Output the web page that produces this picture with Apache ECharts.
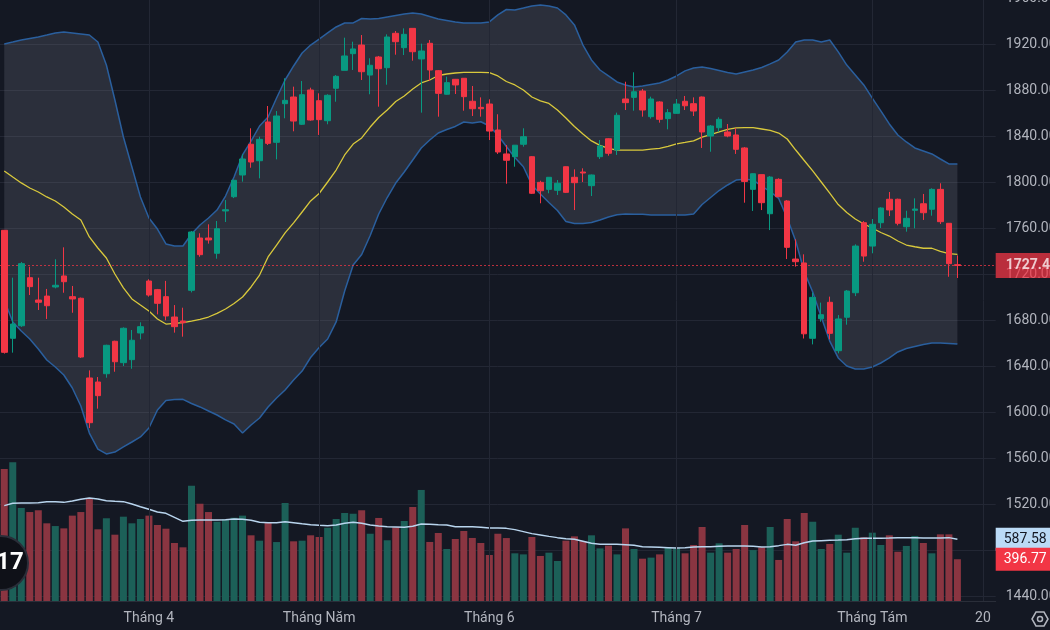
<!DOCTYPE html>
<html><head><meta charset="utf-8">
<script src="https://cdn.jsdelivr.net/npm/echarts@6/dist/echarts.min.js"></script>
<style>html,body{margin:0;padding:0;background:#141823;overflow:hidden}#c{width:1050px;height:630px}</style>
</head><body><div id="c"></div>
<script>
const opens = [1758.0,1664.1,1675.0,1716.8,1697.4,1700.8,1708.7,1718.3,1700.3,1698.9,1629.6,1626.1,1633.3,1661.5,1642.9,1645.5,1668.7,1713.9,1706.4,1700.3,1682.6,1679.1,1705.8,1751.3,1751.3,1738.0,1774.8,1787.2,1806.1,1832.8,1818.5,1852.2,1834.5,1868.1,1873.9,1850.2,1880.0,1870.7,1853.3,1881.5,1897.1,1911.6,1919.1,1893.0,1908.7,1899.4,1929.3,1916.8,1933.6,1907.0,1920.6,1896.8,1876.3,1889.3,1890.2,1870.2,1864.9,1867.8,1845.2,1824.4,1822.0,1832.8,1822.0,1799.7,1793.6,1792.8,1813.3,1804.1,1808.7,1796.8,1822.0,1837.6,1827.8,1872.2,1873.6,1879.1,1856.8,1869.6,1855.1,1859.7,1870.2,1868.1,1873.9,1840.0,1847.2,1843.5,1840.9,1829.6,1793.6,1806.4,1772.4,1802.3,1783.5,1733.0,1729.6,1664.1,1681.1,1695.4,1653.3,1682.4,1703.7,1764.6,1744.3,1764.6,1785.0,1785.0,1761.1,1775.4,1781.1,1776.3,1793.6,1764.1,1728.1];
const highs = [1758.2,1716.8,1730.4,1726.3,1716.8,1707.0,1732.8,1743.2,1709.6,1699.5,1636.2,1630.4,1658.5,1662.0,1673.6,1671.3,1678.0,1715.4,1707.0,1714.0,1693.0,1690.7,1757.4,1755.4,1763.2,1766.1,1784.3,1802.0,1824.1,1846.7,1839.4,1866.1,1861.7,1890.2,1882.9,1887.8,1882.0,1877.1,1876.3,1893.0,1925.5,1922.0,1927.8,1907.6,1909.6,1928.4,1931.3,1933.6,1933.6,1920.3,1923.5,1897.4,1891.6,1889.6,1890.4,1883.5,1873.6,1871.9,1858.9,1832.2,1832.0,1846.7,1822.5,1801.1,1804.1,1801.7,1813.5,1811.0,1811.9,1806.5,1836.5,1838.0,1860.3,1887.2,1895.4,1880.9,1874.2,1870.2,1863.5,1872.2,1874.8,1873.6,1874.3,1849.6,1856.3,1850.4,1846.7,1830.4,1807.5,1806.5,1805.2,1803.2,1784.3,1750.2,1737.1,1703.7,1695.1,1700.3,1684.3,1706.1,1745.8,1766.0,1767.8,1778.0,1791.3,1785.5,1775.0,1785.8,1789.6,1794.5,1798.9,1764.3,1736.2];
const lows = [1650.8,1651.6,1674.0,1701.7,1688.7,1680.9,1707.5,1703.7,1686.3,1647.0,1586.1,1602.9,1629.8,1635.0,1640.0,1637.6,1663.2,1700.3,1684.9,1679.7,1669.0,1665.5,1704.0,1735.0,1746.4,1733.3,1765.2,1786.0,1800.3,1812.4,1803.2,1832.2,1819.7,1855.4,1844.1,1849.6,1853.3,1840.9,1850.2,1869.8,1897.1,1897.4,1888.7,1876.3,1865.5,1884.6,1910.7,1910.4,1905.5,1860.3,1887.8,1856.8,1875.9,1876.5,1862.0,1857.4,1856.8,1836.5,1824.4,1798.5,1813.3,1830.7,1789.6,1781.5,1790.2,1788.7,1790.4,1775.6,1800.0,1787.8,1820.0,1822.9,1823.5,1862.6,1862.0,1856.8,1855.1,1851.6,1845.8,1859.7,1862.6,1857.4,1829.6,1826.3,1843.7,1838.9,1824.4,1782.0,1774.8,1775.6,1758.2,1787.0,1733.0,1726.4,1663.9,1658.8,1678.5,1663.2,1651.0,1675.9,1700.8,1730.7,1738.0,1760.0,1770.4,1762.3,1756.8,1759.7,1767.0,1770.7,1763.5,1717.6,1716.5];
const closes = [1651.9,1676.5,1729.0,1709.0,1695.4,1692.4,1710.2,1713.3,1698.3,1647.8,1590.7,1614.2,1658.0,1643.7,1672.8,1662.4,1674.2,1701.7,1694.5,1683.5,1674.2,1677.6,1756.5,1736.8,1749.6,1759.4,1775.9,1801.5,1820.0,1817.4,1837.1,1833.6,1857.4,1871.0,1853.0,1875.9,1853.9,1854.2,1875.4,1891.9,1909.6,1915.7,1895.9,1901.5,1898.5,1926.1,1922.0,1928.4,1913.3,1913.9,1897.4,1877.1,1886.4,1884.4,1874.2,1863.7,1863.7,1844.3,1826.1,1818.9,1832.0,1839.4,1790.2,1792.4,1804.1,1798.9,1791.0,1799.4,1807.8,1806.1,1831.3,1825.0,1858.0,1869.0,1878.5,1862.6,1872.2,1854.5,1860.3,1867.8,1866.3,1861.7,1843.5,1848.7,1854.5,1840.0,1828.4,1800.5,1807.2,1782.0,1804.3,1787.2,1743.2,1730.7,1668.0,1699.7,1684.6,1668.4,1680.9,1705.2,1744.3,1735.6,1763.2,1777.4,1775.7,1764.1,1768.4,1776.5,1773.3,1793.6,1765.5,1729.0,1727.4];
const volumes = [1254,1318,884,845,862,738,712,690,811,845,972,681,786,630,801,738,779,811,722,687,551,510,1095,924,845,753,776,791,811,624,573,741,560,931,567,573,624,608,696,779,836,829,862,639,789,577,700,760,893,1055,561,646,494,589,665,599,551,437,639,598,453,443,608,428,459,380,573,614,570,624,500,526,443,690,494,402,412,443,510,500,453,532,703,459,548,459,494,722,484,510,703,390,779,567,836,753,494,542,630,459,696,605,649,532,624,468,523,618,551,453,633,633,396.77];
const volumeMA = [906,928,931,931,934,944,944,937,950,966,979,969,953,947,944,922,896,871,846,833,795,757,767,770,770,770,773,779,776,767,748,744,744,753,744,734,725,719,716,722,738,748,738,722,713,706,703,700,710,732,729,725,722,706,706,706,700,694,694,690,678,659,640,627,614,602,592,586,567,548,538,538,538,535,529,516,513,510,507,504,507,513,516,516,519,522,522,522,519,513,516,526,538,529,554,570,573,576,579,583,592,595,595,595,598,602,602,602,598,598,598,602,587.58];
const bandUpper = [1920.0,1921.7,1923.5,1924.8,1926.1,1927.8,1929.6,1930.4,1929.6,1928.7,1927.8,1921.7,1901.7,1871.3,1839.1,1813.0,1787.0,1768.7,1759.1,1746.1,1744.3,1744.3,1754.8,1762.6,1768.7,1775.6,1787.8,1804.3,1823.5,1835.6,1848.7,1856.5,1873.0,1888.7,1900.9,1912.2,1919.1,1924.3,1929.6,1934.8,1938.3,1938.3,1942.2,1941.7,1942.2,1943.5,1944.8,1946.1,1947.0,1946.1,1943.9,1941.7,1940.5,1939.2,1938.3,1938.3,1938.3,1939.2,1945.3,1950.0,1949.6,1951.3,1953.1,1954.0,1953.1,1951.3,1945.3,1936.6,1919.1,1906.1,1897.4,1892.2,1887.0,1884.4,1882.7,1883.5,1884.8,1886.1,1888.7,1892.2,1896.6,1899.2,1900.0,1898.7,1897.0,1895.3,1894.0,1895.7,1897.4,1899.6,1902.7,1906.1,1913.1,1921.7,1923.5,1923.5,1921.7,1923.5,1913.1,1901.7,1893.1,1884.4,1873.0,1861.8,1850.5,1840.9,1834.8,1829.6,1827.0,1824.4,1820.0,1815.7,1815.7];
const bandMiddle = [1809.6,1804.3,1799.2,1794.8,1791.3,1787.0,1783.5,1778.3,1772.2,1767.0,1752.2,1742.6,1733.9,1720.0,1707.9,1698.3,1693.0,1687.8,1680.9,1676.5,1677.0,1677.8,1679.1,1680.6,1682.6,1685.7,1689.6,1694.4,1700.0,1708.7,1719.1,1734.8,1745.2,1755.7,1764.4,1773.9,1783.5,1790.0,1800.0,1810.4,1823.5,1833.0,1838.3,1847.8,1856.1,1862.6,1870.0,1874.8,1880.9,1886.1,1888.7,1892.6,1893.9,1894.8,1895.3,1895.4,1895.3,1895.1,1892.2,1887.4,1884.4,1880.0,1873.9,1870.5,1868.3,1862.6,1855.7,1848.3,1841.7,1835.7,1831.8,1829.2,1827.8,1827.7,1827.7,1827.8,1828.5,1829.2,1830.9,1833.2,1834.4,1835.7,1839.1,1841.3,1843.5,1845.7,1847.0,1847.2,1847.2,1846.1,1844.8,1842.6,1837.4,1827.8,1818.7,1809.6,1800.0,1790.4,1780.4,1773.5,1767.8,1763.5,1760.0,1756.1,1753.0,1748.7,1745.2,1743.7,1742.4,1742.4,1739.6,1737.8,1737.1];
const bandLower = [1697.4,1678.3,1670.4,1663.5,1654.8,1645.2,1639.1,1632.2,1620.9,1605.2,1581.7,1567.8,1563.5,1565.2,1569.6,1573.9,1578.3,1586.1,1601.7,1610.0,1610.9,1611.0,1607.4,1604.4,1600.9,1597.4,1593.1,1589.6,1581.7,1588.7,1594.8,1604.4,1612.2,1619.1,1627.8,1635.6,1647.4,1656.1,1663.5,1678.3,1705.2,1727.8,1737.0,1753.5,1772.2,1786.5,1799.1,1808.7,1819.1,1829.6,1836.5,1842.6,1845.7,1848.3,1852.2,1851.3,1852.4,1848.7,1840.9,1830.9,1821.3,1813.3,1797.4,1789.6,1782.2,1775.2,1765.7,1763.9,1763.9,1764.8,1767.0,1769.6,1771.6,1772.2,1772.0,1771.9,1771.3,1771.3,1771.3,1771.3,1771.3,1772.2,1780.4,1786.5,1792.6,1797.4,1801.7,1802.4,1801.7,1796.5,1791.7,1785.7,1768.7,1748.7,1722.0,1704.4,1682.6,1661.7,1647.0,1640.0,1637.4,1637.4,1639.1,1642.6,1647.0,1652.2,1655.2,1657.0,1658.7,1660.0,1660.0,1659.6,1659.1];
const slotCount = 117;
const categories = Array.from({length: slotCount}, (_, i) => 'd' + i);
const tickIndex = [17, 37, 57, 79, 102, 115];
const tickLabels = ['Tháng 4', 'Tháng Năm', 'Tháng 6', 'Tháng 7', 'Tháng Tám', '20'];
const priceTicks = {min: 1400, max: 1960, interval: 40};

const UP = '#089981', DOWN = '#f23645';
const UPV = '#1c6058', DOWNV = '#8a3541';
const GRIDC = '#232734';
const TXT = '#b2b5be';
const FONT = 'Roboto, "Noto Sans", sans-serif';
const n = closes.length;
const candleData = opens.map((o, i) => [o, closes[i], lows[i], highs[i]]);
const bandWidth = bandUpper.map((u, i) => +(u - bandLower[i]).toFixed(2));
const volData = volumes.map((v, i) => ({value: v, itemStyle: {color: closes[i] >= opens[i] ? UPV : DOWNV}}));
const lastClose = closes[n - 1];
const tickMap = {};
tickIndex.forEach((t, k) => tickMap[t] = tickLabels[k]);
const HIDDEN = 'rgba(0,0,0,0)';

const chart = echarts.init(document.getElementById('c'), null, {renderer: 'canvas'});
chart.setOption({
  backgroundColor: '#141823',
  animation: false,
  grid: [
    {left: 0, right: 54.3, top: -2, height: 644, outerBoundsMode: 'none', containLabel: false},
    {left: 0, right: 54.3, top: 0, height: 601, outerBoundsMode: 'none', containLabel: false}
  ],
  xAxis: [
    {type: 'category', gridIndex: 0, data: categories, show: false, boundaryGap: true},
    {type: 'category', gridIndex: 1, data: categories, boundaryGap: true,
     axisLine: {show: true, lineStyle: {color: '#2a2e39', width: 1}},
     axisTick: {show: false}, splitLine: {show: false},
     axisLabel: {interval: (idx) => tickMap[idx] !== undefined, formatter: (v, idx) => tickMap[idx] || '',
       color: TXT, fontSize: 14, fontFamily: FONT, margin: 10}}
  ],
  yAxis: [
    {type: 'value', gridIndex: 0, position: 'right', min: priceTicks.min, max: priceTicks.max, interval: priceTicks.interval,
     axisLine: {show: false}, axisTick: {show: false},
     splitLine: {show: true, lineStyle: {color: GRIDC, width: 1}},
     axisLabel: {color: TXT, fontSize: 14, fontFamily: FONT, margin: 10, formatter: (v) => v.toFixed(2)}},
    {type: 'value', gridIndex: 1, min: 0, max: 5709.5, show: false}
  ],
  graphic: [
    {type: 'circle', shape: {cx: 1, cy: 563, r: 27}, style: {fill: '#0f1118', stroke: '#2a2e39', lineWidth: 2}, z: 100},
    {type: 'text', x: 10, y: 563, style: {text: '17', fill: '#ffffff', font: 'bold 24px ' + FONT, align: 'center', verticalAlign: 'middle'}, z: 101},
    {type: 'polygon', shape: {points: [[1048,619],[1044,625.9],[1036,625.9],[1032,619],[1036,612.1],[1044,612.1]]}, style: {fill: 'none', stroke: TXT, lineWidth: 1.5}, z: 100},
    {type: 'circle', shape: {cx: 1040, cy: 619, r: 2.5}, style: {fill: 'none', stroke: TXT, lineWidth: 1.5}, z: 100}
  ],
  series: [
    {type: 'line', name: 'gridV', xAxisIndex: 1, yAxisIndex: 1, data: [], z: 0, silent: true,
     markLine: {symbol: ['none', 'none'], silent: true, animation: false,
       label: {show: false}, lineStyle: {color: GRIDC, width: 1, type: 'solid'},
       data: tickIndex.map(t => ({xAxis: categories[t]}))}},
    {type: 'line', name: 'bbLower', xAxisIndex: 0, yAxisIndex: 0, data: bandLower, stack: 'bb', symbol: 'none', smooth: false,
     lineStyle: {color: '#2a5f9e', width: 1.5}, z: 1, silent: true},
    {type: 'line', name: 'bbUpper', xAxisIndex: 0, yAxisIndex: 0, data: bandWidth, stack: 'bb', symbol: 'none',
     lineStyle: {color: '#2a5f9e', width: 1.5}, areaStyle: {color: 'rgba(125,130,145,0.32)'}, z: 1, silent: true},
    {type: 'line', name: 'bbBasis', xAxisIndex: 0, yAxisIndex: 0, data: bandMiddle, symbol: 'none',
     lineStyle: {color: '#d9c93c', width: 1.3}, z: 2, silent: true},
    {type: 'bar', name: 'volume', xAxisIndex: 1, yAxisIndex: 1, data: volData, barWidth: 7, z: 2, clip: false, silent: true,
     markLine: {symbol: ['none', 'none'], silent: true, animation: false, z: 20,
       lineStyle: {color: HIDDEN, width: 0},
       data: [{yAxis: volumes[n - 1]}],
       label: {show: true, position: 'end', distance: 0, formatter: volumes[n - 1].toFixed(2),
         color: '#ffffff', backgroundColor: '#f23645', padding: [5, 10, 4, 8], fontSize: 14, fontFamily: FONT}}},
    {type: 'line', name: 'volMA', xAxisIndex: 1, yAxisIndex: 1, data: volumeMA, symbol: 'none', clip: false,
     lineStyle: {color: '#b9d5ee', width: 1.5}, z: 3, silent: true,
     markLine: {symbol: ['none', 'none'], silent: true, animation: false, z: 19,
       lineStyle: {color: HIDDEN, width: 0},
       data: [{yAxis: volumeMA[n - 1]}],
       label: {show: true, position: 'end', distance: 0, formatter: volumeMA[n - 1].toFixed(2),
         color: '#131722', backgroundColor: '#bbdaf6', padding: [5, 10, 4, 8], fontSize: 14, fontFamily: FONT}}},
    {type: 'candlestick', name: 'price', xAxisIndex: 0, yAxisIndex: 0, data: candleData, barWidth: 6, z: 5, clip: false,
     itemStyle: {color: UP, color0: DOWN, borderColor: UP, borderColor0: DOWN, borderWidth: 1},
     markLine: {symbol: ['none', 'none'], silent: true, animation: false,
       data: [{yAxis: lastClose}],
       lineStyle: {color: '#f23645', type: [2, 2], width: 1, opacity: 0.75},
       label: {show: true, position: 'end', distance: 0, formatter: lastClose.toFixed(2),
         color: '#ffffff', backgroundColor: '#f23645', padding: [6, 10, 5, 10], fontSize: 14, fontWeight: 'bold', fontFamily: FONT}}}
  ]
});
</script></body></html>
